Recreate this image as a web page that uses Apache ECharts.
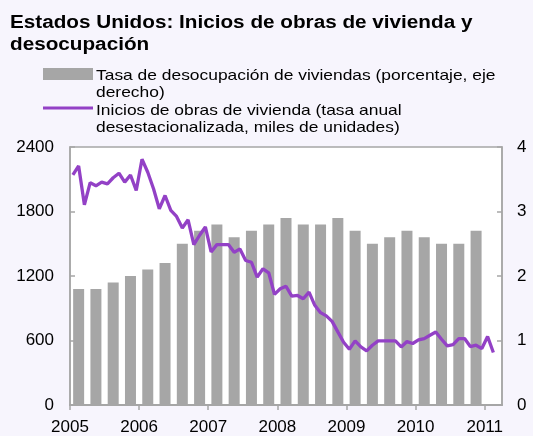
<!DOCTYPE html>
<html>
<head>
<meta charset="utf-8">
<script src="https://cdn.jsdelivr.net/npm/echarts@6/dist/echarts.min.js"></script>
<style>
  html, body { margin: 0; padding: 0; background: #f7f5fd; }
  #chart { width: 533px; height: 436px; }
</style>
</head>
<body>
<div id="chart"></div>
<script>
// Inicios de obras de vivienda, mensual, ene 2005 - feb 2011 (miles, eje izquierdo)
const startsValues = [
  2140, 2224, 1862, 2069, 2039, 2073, 2057, 2114, 2156, 2073, 2140, 1995,
  2286, 2165, 2011, 1825, 1949, 1810, 1754, 1647, 1723, 1492, 1579, 1656,
  1424, 1492, 1492, 1492, 1420, 1452, 1344, 1328, 1189, 1267, 1230, 1029,
  1081, 1105, 1013, 1019, 988, 1050, 927, 859, 829, 778, 680, 584,
  519, 596, 540, 503, 556, 596, 596, 596, 596, 540, 590, 572,
  605, 618, 649, 679, 612, 550, 561, 618, 618, 544, 556, 525,
  637, 488
]
// Tasa de desocupacion, trimestral, 2005T1 - 2010T4 (porcentaje, eje derecho)
const vacancyValues = [
  1.8, 1.8, 1.9, 2.0,
  2.1, 2.2, 2.5, 2.7,
  2.8, 2.6, 2.7, 2.8,
  2.9, 2.8, 2.8, 2.9,
  2.7, 2.5, 2.6, 2.7,
  2.6, 2.5, 2.5, 2.7
]
const yearLabels = [2005, 2006, 2007, 2008, 2009, 2010, 2011]

const titleText = 'Estados Unidos: Inicios de obras de vivienda y\ndesocupación'
const legendBar = 'Tasa de desocupación de viviendas (porcentaje, eje\nderecho)'
const legendLine = 'Inicios de obras de vivienda (tasa anual\ndesestacionalizada, miles de unidades)'

const gray = '#a6a6a6'
const purple = '#9341c6'
const font = 'Liberation Sans, Arial, sans-serif'

// positions on a decimal-year axis: months at mid-month, quarters at mid-quarter
const lineData = startsValues.map((v, i) => [2005 + (i + 0.5) / 12, v])
const barData = vacancyValues.map((v, i) => [2005 + (i + 0.5) / 4, v])

const chart = echarts.init(document.getElementById('chart'))
chart.setOption({
  backgroundColor: '#f7f5fd',
  animation: false,
  textStyle: { fontFamily: font },
  // the original texts are a little wider than Arial, hence scaleX
  graphic: [
    { type: 'text', x: 10, y: 12, scaleX: 1.15,
      style: { text: titleText, font: 'bold 18px ' + font, fill: '#000', lineHeight: 22 } },
    { type: 'rect', shape: { x: 43, y: 68, width: 50, height: 12 }, style: { fill: gray } },
    { type: 'text', x: 96, y: 67, scaleX: 1.16,
      style: { text: legendBar, font: '15px ' + font, fill: '#000', lineHeight: 17.5 } },
    { type: 'line', shape: { x1: 43, y1: 108, x2: 93, y2: 108 }, style: { stroke: purple, lineWidth: 3 } },
    { type: 'text', x: 96, y: 102, scaleX: 1.16,
      style: { text: legendLine, font: '15px ' + font, fill: '#000', lineHeight: 17.5 } }
  ],
  grid: {
    left: 70, right: 31, top: 147, bottom: 30,
    show: true, backgroundColor: '#fff', borderColor: gray, borderWidth: 1.5
  },
  xAxis: {
    type: 'value',
    min: 2005, max: 2011.25, interval: 1,
    splitLine: { show: false },
    axisLine: { show: true, lineStyle: { color: gray, width: 2 } },
    axisTick: { show: true, length: 5, lineStyle: { color: gray, width: 1.5 }, customValues: yearLabels },
    axisLabel: { color: '#000', fontSize: 17, margin: 14, customValues: yearLabels, formatter: v => String(v) }
  },
  yAxis: [
    {
      type: 'value', min: 0, max: 2400, interval: 600,
      splitLine: { show: false },
      axisLine: { show: true, lineStyle: { color: gray, width: 1.5 } },
      axisTick: { show: true, inside: true, length: 5, lineStyle: { color: gray, width: 1.5 } },
      axisLabel: { color: '#000', fontSize: 17, margin: 16, formatter: v => String(v) }
    },
    {
      type: 'value', min: 0, max: 4, interval: 1, position: 'right',
      splitLine: { show: false },
      axisLine: { show: true, lineStyle: { color: gray, width: 1.5 } },
      axisTick: { show: true, inside: true, length: 5, lineStyle: { color: gray, width: 1.5 } },
      axisLabel: { color: '#000', fontSize: 17, margin: 15 }
    }
  ],
  series: [
    {
      name: 'vacancy', type: 'bar', yAxisIndex: 1,
      data: barData, barWidth: 11,
      itemStyle: { color: gray }
    },
    {
      name: 'starts', type: 'line', yAxisIndex: 0,
      data: lineData, showSymbol: false, symbol: 'none',
      lineStyle: { color: purple, width: 3.3 },
      z: 5
    }
  ]
})
</script>
</body>
</html>
